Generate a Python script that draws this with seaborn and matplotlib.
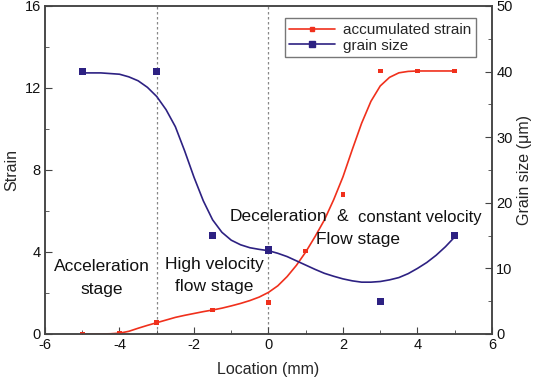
import matplotlib
matplotlib.use("Agg")
import matplotlib.pyplot as plt
from matplotlib.lines import Line2D
from matplotlib.ticker import MultipleLocator
import seaborn as sns
import pandas as pd

# measured points
loc_strain = [-5, -4, -3, -1.5, 0, 1, 2, 3, 4, 5]
strain = [0.0, 0.05, 0.55, 1.17, 1.53, 4.05, 6.8, 12.83, 12.83, 12.83]
loc_grain = [-5, -3, -1.5, 0, 3, 5]
grain = [40, 40, 15, 12.8, 5, 15]

# fitted curves
curve_x = [-5, -4.75, -4.5, -4.25, -4, -3.75, -3.5, -3.25, -3, -2.75, -2.5, -2.25,
           -2, -1.75, -1.5, -1.25, -1, -0.75, -0.5, -0.25, 0, 0.25, 0.5, 0.75,
           1, 1.25, 1.5, 1.75, 2, 2.25, 2.5, 2.75, 3, 3.25, 3.5, 3.75, 4, 4.25,
           4.5, 4.75, 5]
strain_fit = [0, 0, 0, 0.01, 0.04, 0.13, 0.28, 0.42, 0.55, 0.68, 0.81, 0.91,
              1.0, 1.09, 1.17, 1.26, 1.37, 1.49, 1.63, 1.8, 2.03, 2.35, 2.8, 3.35,
              4.0, 4.75, 5.56, 6.55, 7.67, 9.0, 10.28, 11.35, 12.1, 12.52, 12.74, 12.81,
              12.83, 12.83, 12.83, 12.83, 12.83]
grain_fit = [39.8, 39.8, 39.8, 39.7, 39.6, 39.2, 38.6, 37.6, 36.2, 34.2, 31.6, 27.9,
             23.9, 20.3, 17.4, 15.5, 14.3, 13.6, 13.15, 12.9, 12.7, 12.3, 11.8, 11.15,
             10.5, 9.85, 9.25, 8.8, 8.4, 8.1, 7.9, 7.9, 8.0, 8.25, 8.6, 9.2, 10.0,
             10.9, 12.0, 13.3, 14.8]

red = "#f0301c"
blue = "#2d2182"

sns.set_style("ticks")
plt.rcParams["font.family"] = ["Liberation Sans", "DejaVu Sans"]
plt.rcParams["axes.unicode_minus"] = False
plt.rcParams["xtick.direction"] = "in"
plt.rcParams["ytick.direction"] = "in"

fig = plt.figure(figsize=(5.4, 3.82), dpi=100)
ax = fig.add_axes([0.0833, 0.1257, 0.8278, 0.8586])
ax2 = ax.twinx()

fit = pd.DataFrame({"x": curve_x, "strain": strain_fit, "grain": grain_fit})
sns.lineplot(data=fit, x="x", y="strain", ax=ax, color=red, lw=1.2)
sns.scatterplot(x=loc_strain, y=strain, ax=ax, color=red, marker="s", s=12,
                edgecolor="none", zorder=5)
sns.lineplot(data=fit, x="x", y="grain", ax=ax2, color=blue, lw=1.2)
sns.scatterplot(x=loc_grain, y=grain, ax=ax2, color=blue, marker="s", s=28,
                edgecolor="none", zorder=5)

for xv in [-3, 0]:
    ax.axvline(xv, color="#888888", ls=(0, (2, 2)), lw=0.9, zorder=0)

ax.set_xlim(-6, 6)
ax.set_ylim(0, 16)
ax2.set_ylim(0, 50)
ax.xaxis.set_major_locator(MultipleLocator(2))
ax.xaxis.set_minor_locator(MultipleLocator(1))
ax.yaxis.set_major_locator(MultipleLocator(4))
ax.yaxis.set_minor_locator(MultipleLocator(2))
ax2.yaxis.set_major_locator(MultipleLocator(10))
ax2.yaxis.set_minor_locator(MultipleLocator(5))
for a in (ax, ax2):
    a.tick_params(which="both", top=False, labelsize=10.5, colors="#444444",
                  labelcolor="#111111", pad=3)
    a.tick_params(which="major", length=5)
    a.tick_params(which="minor", length=3)
    for sp in a.spines.values():
        sp.set_visible(True)
        sp.set_color("#444444")
        sp.set_linewidth(1.1)

ax.set_xlabel("Location (mm)", fontsize=11.5, labelpad=7)
ax.set_ylabel("Strain", fontsize=11.5, labelpad=4)
ax2.set_ylabel("Grain size (\u03bcm)", fontsize=11.5, labelpad=3)

tkw = dict(fontsize=12.5, color="#111111", ha="center", va="center")
ax.text(-4.47, 3.28, "Acceleration", **tkw)
ax.text(-4.47, 2.18, "stage", **tkw)
ax.text(-1.46, 3.41, "High velocity", **tkw)
ax.text(-1.46, 2.31, "flow stage", **tkw)
ax.text(-1.05, 5.72, "Deceleration", fontsize=12.5, color="#111111", ha="left", va="center")
ax.text(1.99, 5.72, "&", **tkw)
ax.text(2.40, 5.68, "constant velocity", fontsize=12, color="#111111", ha="left", va="center")
ax.text(2.39, 4.62, "Flow stage", **tkw)

handles = [
    Line2D([], [], color=red, lw=1.2, marker="s", ms=3.5),
    Line2D([], [], color=blue, lw=1.2, marker="s", ms=5),
]
ax2.legend(handles, ["accumulated strain", "grain size"], loc="upper right",
           bbox_to_anchor=(0.9635, 0.962), borderaxespad=0,
           fontsize=11, frameon=True, fancybox=False, edgecolor="#777777",
           framealpha=1, handlelength=3.0, handletextpad=0.5,
           borderpad=0.3, labelspacing=0.1)

fig.savefig("out.png", dpi=100)
